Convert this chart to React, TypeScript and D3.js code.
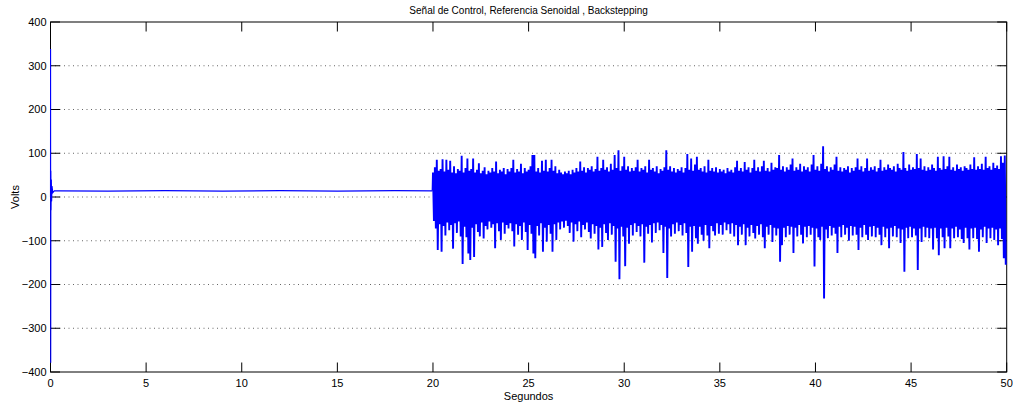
import { line, scaleLinear } from "d3";
import React from "react";

const width = 1013;
const height = 406;
const margin = { top: 22, right: 6.3, bottom: 34, left: 50.5 };
const innerWidth = width - margin.left - margin.right;
const innerHeight = height - margin.top - margin.bottom;

// start-up transient (seconds, volts)
const startT = [0, 0.004, 0.012, 0.02, 0.03, 0.045, 0.06, 0.08, 0.12, 0.2];
const startV = [0, 338, -379, 60, -30, 40, -10, 25, 10, 14];

// control signal while tracking, before the noise appears
const flatT = [0.5, 3, 6, 9, 12, 15, 18, 19.98];
const flatV = [14, 13.5, 14.5, 13.5, 14.5, 13.5, 14.5, 14];

// noise section from t = 20 s, one bin per 0.1 s: top and bottom of each bin
const noiseStart = 20;
const noiseStep = 0.1;
const noiseHi = [
  56, 68, 85, 60, 64, 86, 58, 85, 62, 83, 56, 70, 54, 64, 60, 94, 56, 66, 88, 60,
  64, 88, 56, 62, 77, 54, 60, 68, 52, 60, 56, 66, 58, 81, 54, 62, 58, 66, 52, 64,
  58, 66, 85, 56, 64, 58, 76, 54, 66, 58, 62, 70, 96, 96, 58, 66, 56, 83, 60, 85,
  58, 66, 85, 60, 70, 54, 62, 56, 52, 58, 54, 60, 52, 62, 56, 66, 58, 81, 60, 68,
  56, 66, 62, 70, 58, 64, 92, 60, 66, 85, 62, 68, 58, 76, 62, 96, 66, 107, 60, 70,
  92, 62, 70, 58, 66, 60, 68, 85, 58, 66, 62, 70, 56, 85, 62, 66, 58, 70, 54, 64,
  60, 68, 107, 62, 70, 58, 66, 56, 64, 60, 68, 56, 66, 98, 62, 88, 60, 74, 92, 62,
  66, 58, 70, 56, 85, 60, 66, 58, 68, 56, 64, 58, 62, 54, 66, 58, 62, 56, 68, 83,
  60, 66, 58, 80, 62, 68, 56, 66, 85, 60, 68, 58, 70, 83, 60, 66, 58, 78, 62, 68,
  66, 96, 62, 70, 58, 68, 62, 74, 88, 60, 68, 62, 76, 58, 70, 62, 68, 58, 74, 96,
  62, 70, 60, 76, 116, 64, 70, 58, 68, 62, 74, 92, 60, 68, 58, 66, 62, 70, 56, 66,
  60, 68, 88, 62, 70, 58, 66, 88, 60, 68, 62, 70, 58, 66, 85, 60, 68, 62, 74, 66,
  62, 70, 58, 76, 66, 62, 103, 66, 60, 74, 62, 68, 64, 98, 66, 88, 62, 70, 60, 68,
  62, 74, 66, 60, 92, 66, 62, 93, 64, 70, 92, 62, 68, 60, 74, 64, 68, 60, 70, 66,
  62, 74, 64, 91, 62, 70, 64, 76, 62, 92, 66, 70, 62, 78, 66, 72, 64, 93, 78, 95,
];
const noiseLo = [
  -55, -72, -121, -62, -125, -66, -88, -58, -76, -64, -118, -60, -82, -56, -90, -153, -68, -92, -129, -144,
  -70, -137, -62, -80, -90, -58, -95, -66, -74, -56, -70, -62, -117, -60, -78, -98, -58, -84, -64, -72,
  -60, -78, -113, -62, -86, -66, -98, -58, -80, -121, -64, -84, -129, -140, -66, -88, -60, -125, -70, -102,
  -64, -84, -125, -62, -98, -58, -74, -56, -70, -54, -66, -82, -58, -102, -62, -78, -56, -92, -64, -74,
  -58, -80, -95, -62, -84, -66, -120, -70, -114, -62, -82, -98, -60, -86, -66, -148, -72, -188, -68, -90,
  -158, -70, -107, -64, -88, -60, -80, -66, -90, -62, -150, -68, -84, -64, -104, -60, -82, -58, -76, -64,
  -128, -68, -185, -72, -90, -62, -84, -58, -78, -64, -88, -60, -82, -160, -68, -125, -66, -94, -107, -68,
  -86, -100, -64, -88, -117, -66, -78, -88, -60, -84, -64, -86, -58, -76, -62, -84, -60, -90, -64, -110,
  -68, -86, -62, -110, -70, -90, -64, -82, -95, -66, -86, -62, -92, -117, -68, -86, -64, -103, -70, -88,
  -72, -148, -110, -70, -92, -66, -86, -68, -128, -70, -90, -64, -86, -106, -68, -92, -66, -86, -70, -159,
  -72, -92, -98, -68, -232, -74, -94, -66, -88, -70, -84, -128, -68, -92, -64, -86, -70, -100, -66, -88,
  -68, -86, -121, -70, -92, -64, -86, -98, -68, -90, -66, -92, -70, -86, -110, -68, -92, -72, -117, -70,
  -90, -66, -92, -72, -105, -74, -171, -70, -94, -68, -92, -72, -88, -167, -72, -103, -68, -92, -70, -94,
  -72, -120, -70, -94, -133, -72, -92, -117, -70, -90, -117, -72, -94, -68, -92, -74, -96, -105, -70, -94,
  -120, -72, -94, -70, -96, -125, -74, -92, -68, -105, -72, -94, -70, -98, -74, -110, -72, -96, -140, -155,
];

const xTicks = [0, 5, 10, 15, 20, 25, 30, 35, 40, 45, 50];
const yTicks = [-400, -300, -200, -100, 0, 100, 200, 300, 400];
const yGrid = [-300, -200, -100, 0, 100, 200, 300];

const title = "Señal de Control, Referencia Senoidal , Backstepping";
const xLabel = "Segundos";
const yLabel = "Volts";

const xScale = scaleLinear().domain([0, 50]).range([0, innerWidth]);
const yScale = scaleLinear().domain([-400, 400]).range([innerHeight, 0]);

type Pt = [number, number];
const calm: Pt[] = [];
startT.forEach((t, i) => calm.push([t, startV[i]]));
flatT.forEach((t, i) => calm.push([t, flatV[i]]));
// the noisy stretch continues from the last calm sample
const noisy: Pt[] = [calm[calm.length - 1]];
noiseHi.forEach((hi, k) => {
  const t = noiseStart + k * noiseStep;
  noisy.push([t, hi]);
  noisy.push([t + noiseStep / 2, noiseLo[k]]);
});

const path = line<Pt>()
  .x((d) => xScale(d[0]))
  .y((d) => yScale(d[1]));

const fmt = (v: number) => (v < 0 ? "\u2212" + Math.abs(v) : String(v));
const TICK = 9.5;
const font = "Liberation Sans, Arial, Helvetica, sans-serif";

export default function App() {
  return (
    <svg
      width={width}
      height={height}
      viewBox={`0 0 ${width} ${height}`}
      style={{ position: "absolute", left: 0, top: 0, background: "white" }}
      fontFamily={font}
    >
      <g transform={`translate(${margin.left}, ${margin.top})`}>
        {yGrid.map((v) => (
          <line
            key={v}
            x1={0}
            x2={innerWidth}
            y1={yScale(v)}
            y2={yScale(v)}
            stroke="#666"
            strokeWidth={1}
            strokeDasharray="1 3.5"
          />
        ))}
        {xTicks.map((t) => (
          <g key={t}>
            <line x1={xScale(t)} x2={xScale(t)} y1={innerHeight} y2={innerHeight - TICK} stroke="#000" />
            <line x1={xScale(t)} x2={xScale(t)} y1={0} y2={TICK} stroke="#000" />
            <text x={xScale(t)} y={innerHeight + 15} fontSize={11} textAnchor="middle">
              {t}
            </text>
          </g>
        ))}
        {yTicks.map((v) => (
          <g key={v}>
            <line x1={0} x2={TICK} y1={yScale(v)} y2={yScale(v)} stroke="#000" />
            <line x1={innerWidth} x2={innerWidth - TICK} y1={yScale(v)} y2={yScale(v)} stroke="#000" />
            <text x={-4} y={yScale(v)} dy="0.35em" fontSize={11} textAnchor="end">
              {fmt(v)}
            </text>
          </g>
        ))}
        <rect x={0} y={0} width={innerWidth} height={innerHeight} fill="none" stroke="#000" strokeWidth={1} />
        <path d={path(calm) ?? ""} fill="none" stroke="#0000ff" strokeWidth={1.1} />
        <path
          d={path(noisy) ?? ""}
          fill="none"
          stroke="#0000ff"
          strokeWidth={1.9}
          strokeLinejoin="bevel"
        />
        <text x={innerWidth / 2} y={innerHeight + 28} fontSize={11} textAnchor="middle">
          {xLabel}
        </text>
        <text
          transform={`translate(${-32}, ${innerHeight / 2}) rotate(-90)`}
          fontSize={11}
          textAnchor="middle"
        >
          {yLabel}
        </text>
        <text x={innerWidth / 2} y={-8} fontSize={10} textAnchor="middle">
          {title}
        </text>
      </g>
    </svg>
  );
}
